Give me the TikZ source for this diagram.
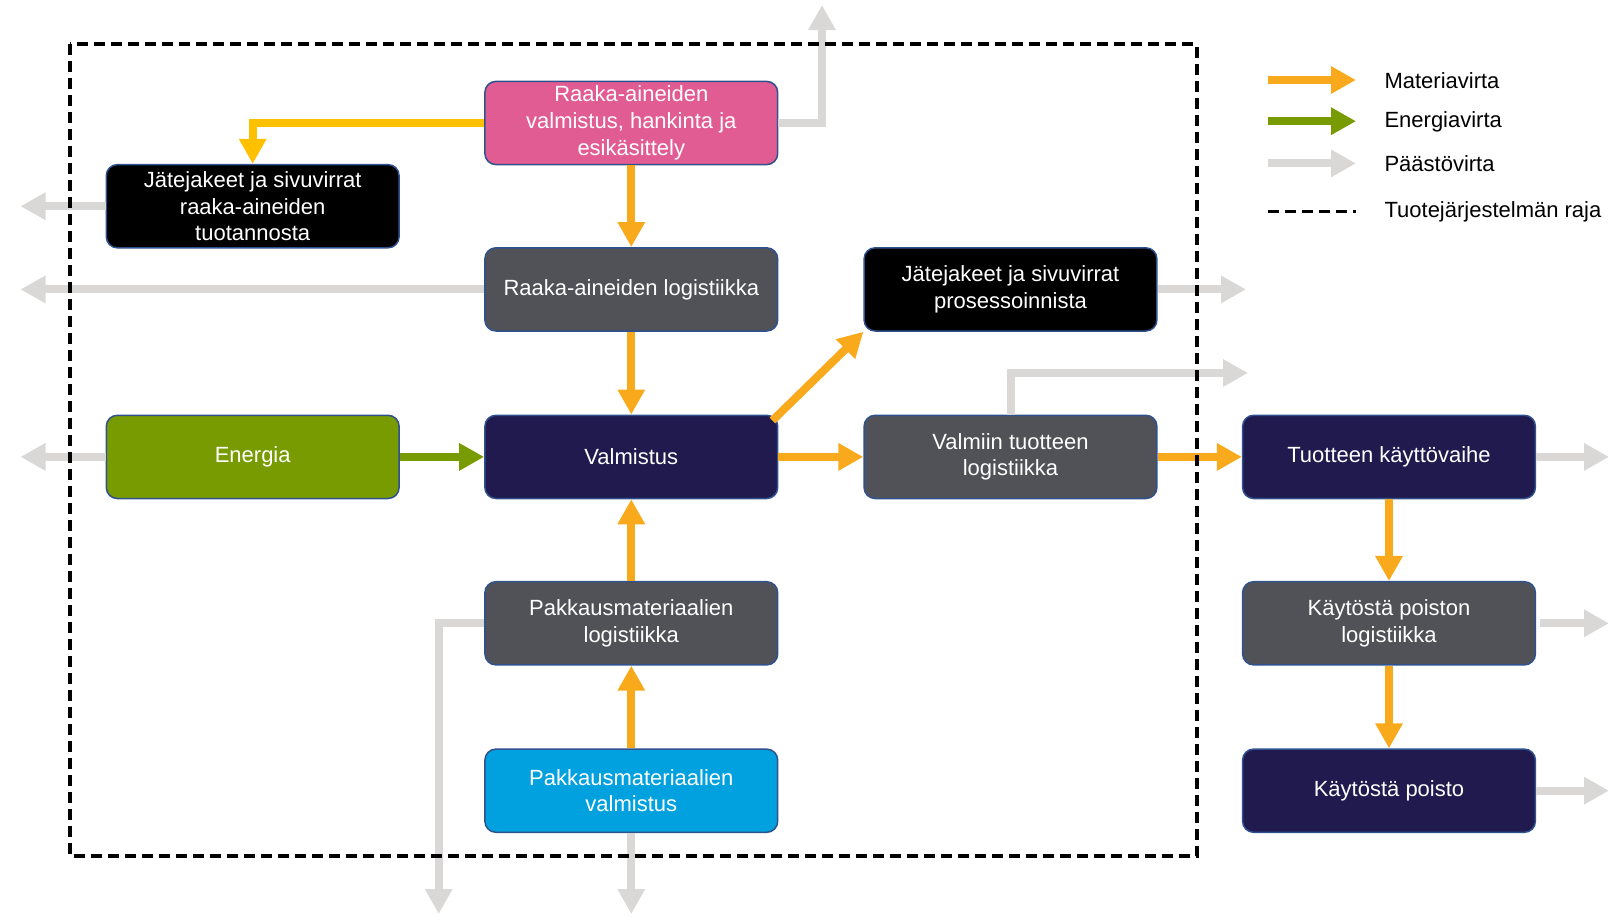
\documentclass[tikz,border=0pt]{standalone}
\usepackage{fontspec}
\setmainfont{Liberation Sans}
\usetikzlibrary{arrows.meta}
\definecolor{pinkbox}{HTML}{E25C94}
\definecolor{navybox}{HTML}{201A4F}
\definecolor{greybox}{HTML}{505257}
\definecolor{greenbox}{HTML}{789B01}
\definecolor{bluebox}{HTML}{00A1DE}
\definecolor{edgeblue}{HTML}{2F528F}
\definecolor{matflow}{HTML}{F9AA1C}
\definecolor{matflowy}{HTML}{FFC000}
\definecolor{emflow}{HTML}{D9D8D6}

\begin{document}
\begin{tikzpicture}[x=1pt, y=-1pt,
		every node/.style={font=\fontsize{22}{26.7}\selectfont},
		box/.style={draw=edgeblue, line width=1.5pt, rounded corners=11pt, text=white, align=center, minimum width=292.8pt, minimum height=83.2pt, inner sep=0pt},
		flow/.style={line width=8pt, -{Triangle[width=26pt,length=25pt]}},
		mat/.style={flow, draw=matflow},
		en/.style={flow, draw=greenbox},
		em/.style={flow, draw=emflow},
		border/.style={draw=black, line width=3.5pt, dash pattern=on 11pt off 6pt}]
		\useasboundingbox (0,0) rectangle (1611,918);
		% boxes
		\node[box, fill=pinkbox] (RV) at (631.3,123) {Raaka-aineiden\\valmistus, hankinta ja\\esikäsittely};
		\node[box, fill=black] (JR) at (252.7,206.2) {Jätejakeet ja sivuvirrat\\raaka-aineiden\\tuotannosta};
		\node[box, fill=greybox] (RL) at (631.3,289.4) {Raaka-aineiden logistiikka};
		\node[box, fill=black] (JP) at (1010.5,289.4) {Jätejakeet ja sivuvirrat\\prosessoinnista};
		\node[box, fill=greenbox] (EN) at (252.7,456.9) {Energia};
		\node[box, fill=navybox] (VA) at (631.3,456.9) {Valmistus};
		\node[box, fill=greybox] (VL) at (1010.5,456.9) {Valmiin tuotteen\\logistiikka};
		\node[box, fill=navybox] (TK) at (1389,456.9) {Tuotteen käyttövaihe};
		\node[box, fill=greybox] (PL) at (631.3,623.3) {Pakkausmateriaalien\\logistiikka};
		\node[box, fill=greybox] (KL) at (1389,623.3) {Käytöstä poiston\\logistiikka};
		\node[box, fill=bluebox] (PV) at (631.3,790.7) {Pakkausmateriaalien\\valmistus};
		\node[box, fill=navybox] (KP) at (1389,790.7) {Käytöstä poisto};
		% free ends of the emission flows
		\coordinate (RVout) at (822,5);
		\coordinate (JRout) at (20.5,206.2);
		\coordinate (RLout) at (20.5,289.4);
		\coordinate (ENout) at (20.5,456.9);
		\coordinate (JPout) at (1246,289.4);
		\coordinate (VLout) at (1248,373);
		\coordinate (TKout) at (1609,456.9);
		\coordinate (KLout) at (1609,623.3);
		\coordinate (KPout) at (1609,790.7);
		\coordinate (PLout) at (438.7,914);
		\coordinate (PVout) at (631.3,914);
		% material flows
		\draw[flow, draw=matflowy] (RV.west) -| (JR.north);
		\draw[mat] (RV) -- (RL);
		\draw[mat] (RL) -- (VA);
		\draw[mat] ([shift={(-6,6)}]VA.north east) -- (JP.south west);
		\draw[mat] (VA) -- (VL);
		\draw[mat] (VL) -- (TK);
		\draw[mat] (TK) -- (KL);
		\draw[mat] (KL) -- (KP);
		\draw[mat] (PL) -- (VA);
		\draw[mat] (PV) -- (PL);
		% energy flow
		\draw[en] (EN) -- (VA);
		% emission flows
		\draw[em] (RV.east) -| (RVout);
		\draw[em] (JR.west) -- (JRout);
		\draw[em] (RL.west) -- (RLout);
		\draw[em] (EN.west) -- (ENout);
		\draw[em] (JP.east) -- (JPout);
		\draw[em] (VL.north) |- (VLout);
		\draw[em] (TK.east) -- (TKout);
		\draw[em] ([xshift=4pt]KL.east) -- (KLout);
		\draw[em] (KP.east) -- (KPout);
		\draw[em] (PL.west) -| (PLout);
		\draw[em] (PV.south) -- (PVout);
		% system boundary
		\draw[border] (69.9,44.2) rectangle (1197,855.8);
		% legend
		\node[anchor=west] (LM) at (1381,80.5) {Materiavirta};
		\node[anchor=west] (LE) at (1381,121.7) {Energiavirta};
		\node[anchor=west] (LP) at (1381,163.9) {Päästövirta};
		\node[anchor=west] (LR) at (1381,212.1) {Tuotejärjestelmän raja};
		\coordinate (LMa) at (1268,80);
		\coordinate (LEa) at (1268,121.2);
		\coordinate (LPa) at (1268,163.4);
		\coordinate (LRa) at (1268,211.6);
		\draw[mat] (LMa) -- ++(88,0);
		\draw[en] (LEa) -- ++(88,0);
		\draw[em] (LPa) -- ++(88,0);
		\draw[border] (LRa) -- ++(88,0);
	\end{tikzpicture}
\end{document}
